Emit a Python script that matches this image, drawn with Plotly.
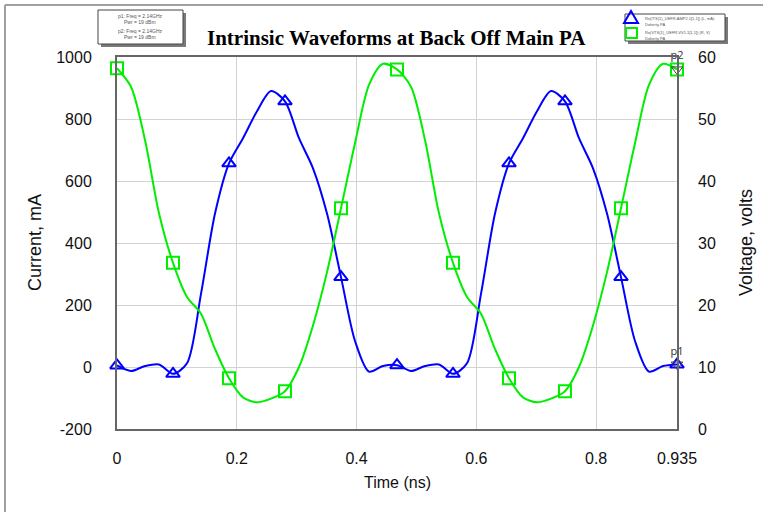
import plotly.graph_objects as go

time_ns = [0.0, 0.023375, 0.04675, 0.070125, 0.0935, 0.116875, 0.14025, 0.163625, 0.187,
           0.210375, 0.23375, 0.257125, 0.2805, 0.303875, 0.32725, 0.350625, 0.374,
           0.397375, 0.42075, 0.444125, 0.4675, 0.490875, 0.51425, 0.537625, 0.561,
           0.584375, 0.60775, 0.631125, 0.6545, 0.677875, 0.70125, 0.724625, 0.748,
           0.771375, 0.79475, 0.818125, 0.8415, 0.864875, 0.88825, 0.911625, 0.935]

current_ma = [5, -13, 3, 8, -22, 12, 236, 495, 657, 738, 825, 890, 857, 738, 641, 495, 290,
              84, -15, 3, 6, -13, 3, 8, -22, 12, 236, 495, 657, 738, 825, 890, 857, 738,
              641, 495, 290, 84, -15, 3, 8]

voltage_v = [58.2, 55.2, 46.6, 34.8, 26.8, 21.3, 18.6, 12.9, 8.2, 5.1, 4.3, 4.9, 6.1, 10.0,
             16.7, 25.3, 35.6, 46.1, 55.5, 58.9, 58.0, 55.2, 46.6, 34.8, 26.8, 21.3, 18.6,
             12.9, 8.2, 5.1, 4.3, 4.9, 6.1, 10.0, 16.7, 25.3, 35.6, 46.1, 55.5, 58.9, 58.0]

x_tickvals = [0, 0.2, 0.4, 0.6, 0.8, 0.935]
x_ticktext = ["0", "0.2", "0.4", "0.6", "0.8", "0.935"]
y_tickvals = [-200, 0, 200, 400, 600, 800, 1000]
y_ticktext = ["-200", "0", "200", "400", "600", "800", "1000"]
y2_tickvals = [0, 10, 20, 30, 40, 50, 60]
y2_ticktext = ["0", "10", "20", "30", "40", "50", "60"]

title_text = "Intrinsic Waveforms at Back Off Main PA"
legend_left = ["p1: Freq = 2.14GHz", "Pwr = 19 dBm", "p2: Freq = 2.14GHz", "Pwr = 19 dBm"]
legend_right = ["Re(ITS(1)_UEFR.AMP2.1[1,1]) (L, mA)", "Doherty PA",
                "Re(VTS(1)_UEFR.VV1.1[1,1]) (R, V)", "Doherty PA"]

BLUE = "#0000FF"
GREEN = "#00EE00"
W, H = 763, 512
L, R, T, B = 117, 86, 57, 83
PW, PH = W - L - R, H - T - B


def px(x):
    return (x - L) / PW


def py(y):
    return (H - B - y) / PH


fig = go.Figure()
fig.add_trace(go.Scatter(x=time_ns, y=current_ma, mode="lines", line=dict(color=BLUE, width=2, shape="spline", smoothing=0.8),
                         yaxis="y", hoverinfo="skip"))
fig.add_trace(go.Scatter(x=time_ns, y=voltage_v, mode="lines", line=dict(color=GREEN, width=2, shape="spline", smoothing=0.8),
                         yaxis="y2", hoverinfo="skip"))
fig.add_trace(go.Scatter(x=time_ns[::4], y=current_ma[::4], mode="markers",
                         marker=dict(symbol="triangle-up-open", size=12, color=BLUE, line=dict(width=2, color=BLUE)),
                         yaxis="y", cliponaxis=False))
fig.add_trace(go.Scatter(x=time_ns[::4], y=voltage_v[::4], mode="markers",
                         marker=dict(symbol="square-open", size=12, color=GREEN, line=dict(width=2, color=GREEN)),
                         yaxis="y2", cliponaxis=False))
# end-point markers p1 / p2
fig.add_trace(go.Scatter(x=[time_ns[-1]], y=[current_ma[-1]], mode="markers+text", text=["p1"],
                         textposition="top center", textfont=dict(size=11, color="#333"),
                         marker=dict(symbol="triangle-down-open", size=10, color="#444", line=dict(width=1)),
                         yaxis="y", cliponaxis=False))
fig.add_trace(go.Scatter(x=[time_ns[-1]], y=[voltage_v[-1]], mode="markers+text", text=["p2"],
                         textposition="top center", textfont=dict(size=11, color="#333"),
                         marker=dict(symbol="triangle-down-open", size=10, color="#444", line=dict(width=1)),
                         yaxis="y2", cliponaxis=False))

axis_font = dict(family="Liberation Sans, Arial", size=16, color="#111")
fig.update_layout(
    width=W, height=H,
    margin=dict(l=L, r=R, t=T, b=B),
    paper_bgcolor="white", plot_bgcolor="white",
    showlegend=False,
    xaxis=dict(range=[0, 0.935], tickvals=x_tickvals, ticktext=x_ticktext, showgrid=True,
               gridcolor="#d3d3d3", gridwidth=1, showline=True, linecolor="#666", linewidth=2, mirror=True,
               ticks="", tickfont=axis_font, ticklabelstandoff=14, zeroline=False),
    yaxis=dict(range=[-200, 1000], tickvals=y_tickvals, ticktext=y_ticktext, showgrid=True,
               gridcolor="#d3d3d3", gridwidth=1,
               showline=True, linecolor="#666", linewidth=2, mirror=True, ticks="", tickfont=axis_font,
               ticklabelstandoff=20, zeroline=False),
    yaxis2=dict(range=[0, 60], tickvals=y2_tickvals, ticktext=y2_ticktext, overlaying="y", side="right",
                showgrid=False, ticks="",
                tickfont=axis_font, ticklabelstandoff=20, zeroline=False, showline=False),
)

annotations = [
    dict(x=px(396), y=py(38), text="<b>" + title_text + "</b>", showarrow=False,
         font=dict(family="Liberation Serif, Times New Roman", size=21, color="black")),
    dict(x=px(35), y=py(243), text="Current, mA", textangle=-90, showarrow=False,
         font=dict(family="Liberation Sans, Arial", size=18, color="#111")),
    dict(x=px(746), y=py(243), text="Voltage, volts", textangle=-90, showarrow=False,
         font=dict(family="Liberation Sans, Arial", size=18, color="#111")),
    dict(x=px(397), y=py(482), text="Time (ns)", showarrow=False,
         font=dict(family="Liberation Sans, Arial", size=16, color="#111")),
]
small = dict(family="Liberation Sans, Arial", size=5, color="#555")
for i, (t, yy) in enumerate(zip(legend_left, [16, 22, 31, 37])):
    annotations.append(dict(x=px(140), y=py(yy), text=t, showarrow=False, font=small))
tiny = dict(family="Liberation Sans, Arial", size=4, color="#555")
for t, yy in zip(legend_right, [18, 24, 32, 38]):
    annotations.append(dict(x=px(643), y=py(yy), text=t, showarrow=False, font=tiny, xanchor="left"))
for a in annotations:
    a.setdefault("xref", "paper")
    a.setdefault("yref", "paper")
    a.setdefault("xanchor", "center")
    a.setdefault("yanchor", "middle")
fig.update_layout(annotations=annotations)


def ppath(points):
    return "M " + " L ".join(f"{px(x):.5f},{py(y):.5f}" for x, y in points) + " Z"


shapes = [
    # outer frame
    dict(type="line", x0=px(5), x1=px(5), y0=py(512), y1=py(5), line=dict(color="#a0a0a0", width=2)),
    dict(type="line", x0=px(5), x1=px(763), y0=py(5), y1=py(5), line=dict(color="#a0a0a0", width=2)),
    # left legend box shadow + box
    dict(type="rect", x0=px(101), x1=px(186), y0=py(47), y1=py(13), fillcolor="#7a7a7a", line=dict(width=0)),
    dict(type="rect", x0=px(98), x1=px(183), y0=py(44), y1=py(10), fillcolor="white", line=dict(color="#444", width=1)),
    # right legend box shadow + box
    dict(type="rect", x0=px(628), x1=px(728), y0=py(44), y1=py(17), fillcolor="#7a7a7a", line=dict(width=0)),
    dict(type="rect", x0=px(625), x1=px(725), y0=py(41), y1=py(14), fillcolor="white", line=dict(color="#444", width=1)),
    # legend symbols
    dict(type="path", path=ppath([(624, 23), (638, 23), (631, 11)]), line=dict(color=BLUE, width=2)),
    dict(type="rect", x0=px(626), x1=px(637), y0=py(38), y1=py(28), line=dict(color=GREEN, width=2)),
]
for s in shapes:
    s["xref"] = "paper"
    s["yref"] = "paper"
    s["layer"] = "below"
shapes[-1]["layer"] = "above"
shapes[-2]["layer"] = "above"
fig.update_layout(shapes=shapes)

fig.write_html("out.html")
